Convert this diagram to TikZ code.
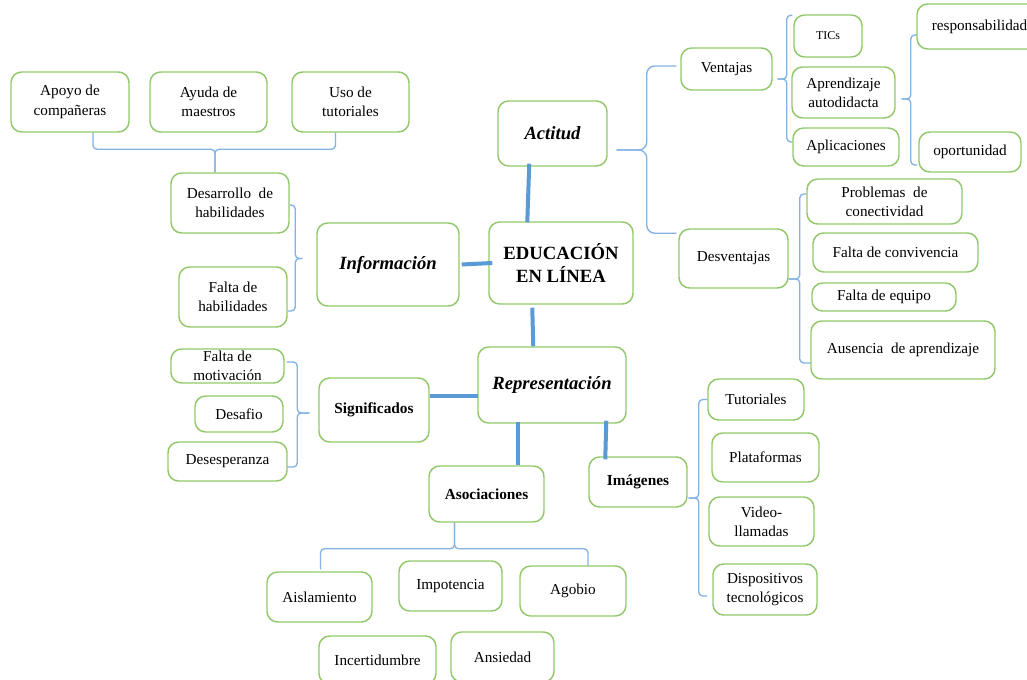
\documentclass[tikz,border=0pt]{standalone}
\usepackage{fontspec}
\setmainfont{Liberation Serif}
\usetikzlibrary{calc}
\definecolor{bgreen}{RGB}{146,200,106}
\definecolor{thkblue}{RGB}{91,155,213}
\definecolor{thnblue}{RGB}{131,178,228}
\pgfdeclarelayer{background}
\pgfsetlayers{background,main}
\newcommand\mybox[7][]{\node[bx,#1,minimum width={(#4-#2)*0.75pt},minimum height={(#5-#3)*0.75pt}] (#6) at ({(#2+#4)/2},{(#3+#5)/2}) {#7};}
\begin{document}
\begin{tikzpicture}[x=0.75pt,y=-0.75pt,
  bx/.style={draw=bgreen, line width=1.1pt, rounded corners=8pt, fill=white, inner sep=0pt, align=center, font=\fontsize{11.4}{14.5}\selectfont},
  big/.style={font=\fontsize{14}{16}\selectfont\bfseries\itshape},
  mid/.style={font=\fontsize{11.5}{14}\selectfont\bfseries},
  thk/.style={draw=thkblue, line width=3pt},
  brc/.style={draw=thnblue, line width=1pt, rounded corners=3pt}]
\useasboundingbox (0,0) rectangle (1027,680);
\begin{pgfonlayer}{background}
\fill[white] (0,0) rectangle (1027,680);
\end{pgfonlayer}
\clip (0,0) rectangle (1027,680);
% ---------- boxes ----------
\mybox{11}{72}{129}{132}{apoyo}{Apoyo de\\compañeras}
\mybox{150}{72}{267}{132}{ayuda}{Ayuda de\\maestros}
\mybox{292}{72}{409}{132}{uso}{Uso de\\tutoriales}
\mybox{171}{173}{289}{233}{desarrollo}{Desarrollo~~de\\habilidades}
\mybox{179}{267}{287}{327}{faltahab}{Falta de\\habilidades}
\mybox[big]{317}{223}{459}{306}{info}{Información}
\mybox[font=\fontsize{14}{17}\selectfont\bfseries]{489}{222}{633}{304}{edu}{EDUCACIÓN\\EN LÍNEA}
\mybox[big]{498}{101}{607}{166}{actitud}{Actitud}
\mybox[big]{478}{347}{626}{423}{repr}{Representación}
\mybox[mid]{319}{378}{429}{442}{signif}{Significados}
\mybox{171}{349}{284}{383}{faltamot}{Falta de\\motivación}
\mybox{195}{396}{283}{432}{desafio}{Desafio}
\mybox{168}{442}{287}{481}{desesp}{Desesperanza}
\mybox[mid]{429}{466}{544}{522}{asoc}{Asociaciones}
\mybox[mid]{589}{457}{687}{507}{imag}{Imágenes}
\mybox{708}{379}{804}{420}{tutor}{Tutoriales}
\mybox{712}{433}{819}{482}{plat}{Plataformas}
\mybox{709}{497}{814}{546}{video}{Video-\\llamadas}
\mybox{713}{564}{817}{615}{disp}{Dispositivos\\tecnológicos}
\mybox{267}{572}{372}{622}{aisl}{Aislamiento}
\mybox{399}{561}{502}{611}{impot}{Impotencia}
\mybox{520}{566}{626}{616}{agobio}{Agobio}
\mybox{319}{636}{436}{684}{incert}{Incertidumbre}
\mybox{451}{632}{554}{682}{ansied}{Ansiedad}
\mybox{681}{48}{772}{90}{ventajas}{Ventajas}
\mybox[font=\fontsize{9}{11}\selectfont]{794}{15}{862}{57}{tics}{TICs}
\mybox{792}{67}{895}{118}{aprend}{Aprendizaje\\autodidacta}
\mybox{793}{128}{899}{166}{aplic}{Aplicaciones}
\mybox{917}{4}{1042}{49}{resp}{responsabilidad}
\mybox{919}{132}{1021}{172}{oport}{oportunidad}
\mybox{679}{229}{788}{288}{desv}{Desventajas}
\mybox{807}{179}{962}{224}{probl}{Problemas~~de\\conectividad}
\mybox{813}{233}{978}{272}{faltaconv}{Falta de convivencia}
\mybox{812}{283}{956}{311}{faltaeq}{Falta de equipo}
\mybox{811}{321}{995}{379}{ausencia}{Ausencia~~de aprendizaje}
% ---------- thick connectors ----------
\draw[thk] ($(actitud.south west)+(32,-3)$) -- ($(edu.north west)+(39,1)$);
\draw[thk] ($(info.east)+(2,0)$) -- ($(edu.west)+(4,0)$);
\draw[thk] ($(edu.south west)+(44,3)$) -- ($(repr.north west)+(56,0)$);
\draw[thk] ($(signif.east)+(0,-14)$) -- ($(repr.west)+(1,11)$);
\draw[thk] ($(repr.south west)+(41,-2)$) -- ($(asoc.north west)+(90,0)$);
\draw[thk] ($(repr.south west)+(129,-3)$) -- ($(imag.north west)+(17,3)$);
% ---------- braces ----------
\begin{pgfonlayer}{background}
\coordinate (tA) at ($(desarrollo.north)+(-15,0)$);
\draw[brc] ($(apoyo.south)+(23,0)$) |- ($(tA)+(0,-23)$) -- (tA);
\draw[brc] ($(uso.south)+(-15,0)$) |- ($(tA)+(0,-23)$) -- (tA);
\coordinate (tB) at ($(info.west)+(-14,-6)$);
\draw[brc] ($(desarrollo.east)+(0,2)$) -| ($(tB)+(-7,0)$) -- (tB);
\draw[brc] ($(faltahab.east)+(0,14)$) -| ($(tB)+(-7,0)$) -- (tB);
\coordinate (tC) at ($(signif.west)+(-9,3)$);
\draw[brc] ($(faltamot.east)+(2,-4)$) -| ($(tC)+(-12,0)$) -- (tC);
\draw[brc] ($(desesp.east)+(-1,5.5)$) -| ($(tC)+(-12,0)$) -- (tC);
\coordinate (tD) at ($(asoc.south)+(-32,0)$);
\draw[brc] ($(aisl.north)+(1,-2)$) |- ($(tD)+(0,26)$) -- (tD);
\draw[brc] ($(agobio.north)+(15,4)$) |- ($(tD)+(0,26)$) -- (tD);
\coordinate (tE) at ($(imag.east)+(1,16)$);
\draw[brc] (tutor.west) -| ($(tE)+(10,0)$) -- (tE);
\draw[brc] ($(disp.west)+(-5,6.5)$) -| ($(tE)+(10,0)$) -- (tE);
\coordinate (tF) at ($(actitud.east)+(9,16.5)$);
\draw[brc, rounded corners=6pt] ($(ventajas.west)+(-4,-3)$) -| ($(tF)+(30,0)$) -- (tF);
\draw[brc, rounded corners=6pt] ($(desv.north west)+(-2,5)$) -| ($(tF)+(30,0)$) -- (tF);
\coordinate (tG) at ($(ventajas.east)+(5,10)$);
\draw[brc] ($(tics.north west)+(-1,1)$) -| ($(tG)+(9,0)$) -- (tG);
\draw[brc] ($(aplic.west)+(0,-5)$) -| ($(tG)+(9,0)$) -- (tG);
\coordinate (tH) at ($(aprend.east)+(6,6.5)$);
\draw[brc] ($(resp.west)+(1,8.5)$) -| ($(tH)+(9,0)$) -- (tH);
\draw[brc] ($(oport.west)+(-1,13)$) -| ($(tH)+(9,0)$) -- (tH);
\coordinate (tI) at ($(desv.east)+(0,20.5)$);
\draw[brc] ($(probl.west)+(0,-7.5)$) -| ($(tI)+(11,0)$) -- (tI);
\draw[brc] ($(ausencia.west)+(1,13)$) -| ($(tI)+(11,0)$) -- (tI);
\end{pgfonlayer}
\end{tikzpicture}
\end{document}
